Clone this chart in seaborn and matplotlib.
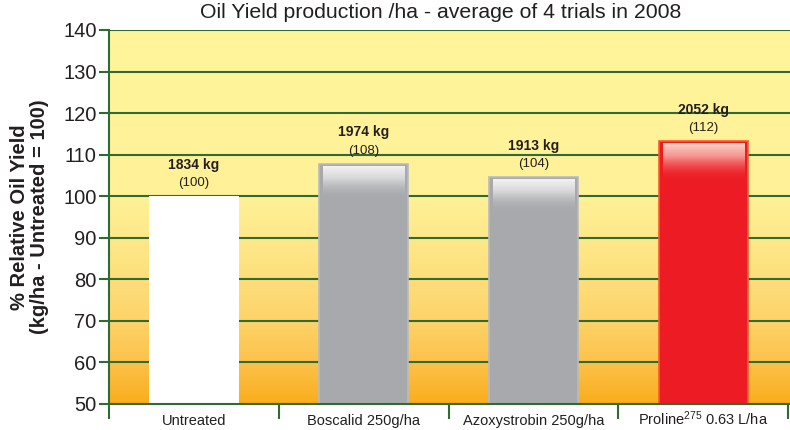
import numpy as np
import pandas as pd
import matplotlib
matplotlib.use("Agg")
import matplotlib.pyplot as plt
from matplotlib.colors import LinearSegmentedColormap, to_rgb
import seaborn as sns

# ---- data ----
categories = ["Untreated", "Boscalid 250g/ha", "Azoxystrobin 250g/ha", "Proline$^{275}$ 0.63 L/ha"]
bar_heights = [100.0, 107.8, 104.6, 113.3]
yield_kg = [1834, 1974, 1913, 2052]
relative_index = [100, 108, 104, 112]
bar_colors = ["#FFFFFF", "#A7A9AC", "#A7A9AC", "#ED1C24"]
y_ticks = [50, 60, 70, 80, 90, 100, 110, 120, 130, 140]

GREEN = "#2F6B33"
TEXT = "#231F20"

sns.set_theme(style="white")
plt.rcParams["font.family"] = ["Liberation Sans", "DejaVu Sans"]
plt.rcParams["mathtext.fontset"] = "custom"
plt.rcParams["mathtext.rm"] = "Liberation Sans"
plt.rcParams["mathtext.it"] = "Liberation Sans:italic"
plt.rcParams["mathtext.bf"] = "Liberation Sans:bold"

fig = plt.figure(figsize=(7.9, 4.3), dpi=100)
ax = fig.add_axes([109 / 790, 1 - 403.7 / 430, 1 - 109 / 790, (403.7 - 30) / 430])
ax.set_facecolor("none")

df = pd.DataFrame({"cat": categories, "val": bar_heights})
sns.barplot(data=df, x="cat", y="val", hue="cat", palette=bar_colors, legend=False,
            width=0.527, saturation=1, ax=ax, zorder=2, linewidth=0)

xmin, xmax = -0.5, 3.51
ymin, ymax = 50, 140
ax.set_xlim(xmin, xmax)
ax.set_ylim(ymin, ymax)

# background gradient
stops = [(0.0, "#FAAD1D"), (10 / 90, "#FCC24B"), (20 / 90, "#FDD36A"), (35 / 90, "#FEE483"),
         (50 / 90, "#FFF197"), (1.0, "#FFF59B")]
cmap = LinearSegmentedColormap.from_list("bg", stops)
grad = np.linspace(0, 1, 256).reshape(-1, 1)
ax.imshow(grad, extent=(xmin, xmax, ymin, ymax), origin="lower", aspect="auto",
          cmap=cmap, zorder=0)

# bar edges and highlights
edge_cols = [None, "#B9BBBE", "#B9BBBE", "#F3602E"]
hl_cols = [None, "#F2F2F3", "#F2F2F3", "#FBD3C8"]
hl_len = [0, 8.0, 8.0, 9.0]
for p, ec, hc, hlen in zip(ax.patches, edge_cols, hl_cols, hl_len):
    if ec is not None:
        p.set_edgecolor(ec)
        p.set_linewidth(1.2)
    if hc is None:
        continue
    x0, w, top = p.get_x(), p.get_width(), p.get_height()
    base = np.array(to_rgb(p.get_facecolor()))
    hi = np.array(to_rgb(hc))
    n = 128
    t = np.linspace(0, 1, n)  # 0 bottom -> 1 top
    img = np.zeros((n, 1, 4))
    for i, tt in enumerate(t):
        img[i, 0, :3] = base + (hi - base) * tt
        img[i, 0, 3] = min(1.0, tt * 1.6)
    inset = 0.025
    ax.imshow(img, extent=(x0 + inset, x0 + w - inset, top - 0.7 - hlen, top - 0.7),
              origin="lower", aspect="auto", zorder=3, interpolation="bilinear")

# labels above bars
for p, kg, idx in zip(ax.patches, yield_kg, relative_index):
    cx = p.get_x() + p.get_width() / 2
    top = p.get_height()
    ax.annotate(f"({idx})", (cx, top), xytext=(0, 5), textcoords="offset points",
                ha="center", va="bottom", fontsize=9.5, color=TEXT, zorder=5)
    ax.annotate(f"{kg} kg", (cx, top), xytext=(0, 17.5), textcoords="offset points",
                ha="center", va="bottom", fontsize=10, fontweight="bold", color=TEXT, zorder=5)

# axes styling
ax.set_yticks(y_ticks)
ax.yaxis.grid(True, color=GREEN, linewidth=1.5)
ax.xaxis.grid(False)
ax.set_axisbelow(True)
for s in ["top", "right"]:
    ax.spines[s].set_visible(False)
for s in ["left", "bottom"]:
    ax.spines[s].set_color(GREEN)
    ax.spines[s].set_linewidth(1.5)
    ax.spines[s].set_zorder(4)

ax.tick_params(axis="y", which="major", left=True, length=7, width=1.5, color=GREEN,
               labelsize=14.5, labelcolor=TEXT, pad=2)
ax.set_xticks(range(len(categories)))
ax.set_xticklabels(categories)
ax.set_xticks([-0.5, 0.5, 1.5, 2.5, 3.5], minor=True)
ax.tick_params(axis="x", which="major", length=0, labelsize=10.5, labelcolor=TEXT, pad=15)
ax.tick_params(axis="x", which="minor", bottom=True, length=10.5, width=1.5, color=GREEN,
               direction="out")
for lbl in ax.get_xticklabels():
    lbl.set_verticalalignment("baseline")

ax.set_xlabel("")
ax.set_ylabel("% Relative Oil Yield\n(kg/ha - Untreated = 100)", fontsize=14.5,
              fontweight="bold", color=TEXT, labelpad=10, linespacing=1.1)

fig.text(441 / 790, 1 - 13 / 430, "Oil Yield production /ha - average of 4 trials in 2008",
         ha="center", va="center", fontsize=15.3, color=TEXT)

fig.savefig("out.png", dpi=100)
